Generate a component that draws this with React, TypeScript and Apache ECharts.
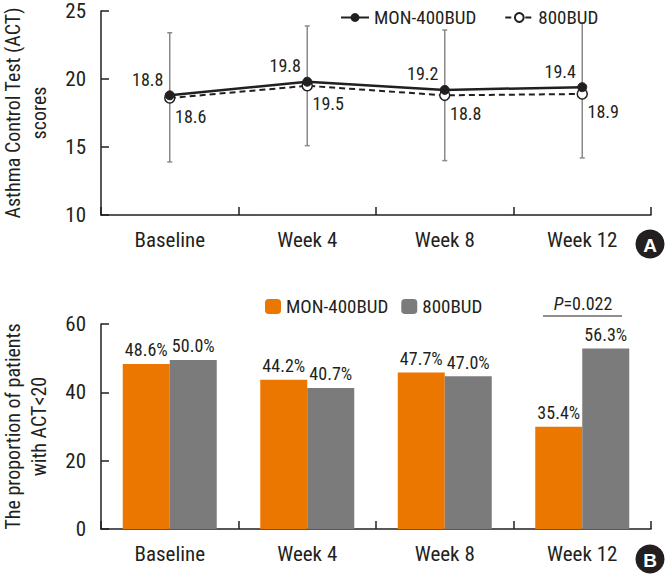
import React, { useEffect, useRef } from "react";
import * as echarts from "echarts";

const categories = ["Baseline", "Week 4", "Week 8", "Week 12"];
const monScores = [18.8, 19.8, 19.2, 19.4];
const budScores = [18.6, 19.5, 18.8, 18.9];
const errLow = [13.9, 15.1, 14.0, 14.2];
const errHigh = [23.4, 23.9, 23.6, 24.1];
const monBar = [48.3, 43.7, 45.8, 29.9];
const budBar = [49.5, 41.3, 44.7, 52.8];
const monBarLabels = ["48.6%", "44.2%", "47.7%", "35.4%"];
const budBarLabels = ["50.0%", "40.7%", "47.0%", "56.3%"];
const seriesNames = ["MON-400BUD", "800BUD"];
const pText = "0.022";

const FONT = "'Roboto Condensed', 'Liberation Sans Narrow', Roboto, sans-serif";
const INK = "#231f20";
const ORANGE = "#ec7700";
const GRAY = "#7b7b7b";

export default function App() {
  const ref = useRef<HTMLDivElement>(null);
  useEffect(() => {
    if (!ref.current) return;
    const chart = echarts.init(ref.current, null, { renderer: "svg" });
    const axisCommon = {
      axisLine: { show: true, lineStyle: { color: INK, width: 1.5 } },
      axisTick: { show: true, inside: true, length: 8, lineStyle: { color: INK, width: 1.5 } },
      splitLine: { show: false },
    };
    const xAxisBase = (gridIndex: number) => ({
      type: "category",
      gridIndex,
      data: categories,
      boundaryGap: true,
      ...axisCommon,
      axisLabel: { fontSize: 21, margin: 14, color: INK, fontFamily: FONT },
    });
    const option: any = {
      animation: false,
      textStyle: { fontFamily: FONT, color: INK },
      grid: [
        { left: 101, right: 16, top: 11, height: 204, outerBoundsMode: "none", containLabel: false },
        { left: 101, right: 16, top: 324, height: 205, outerBoundsMode: "none", containLabel: false },
      ],
      legend: [
        {
          data: seriesNames,
          left: 335,
          top: 3,
          itemWidth: 28,
          itemHeight: 11,
          itemGap: 28,
          textStyle: { fontSize: 19, color: INK, fontFamily: FONT },
        },
        {
          data: ["barMON", "bar800"],
          left: 260,
          top: 292,
          itemWidth: 16,
          itemHeight: 15,
          itemGap: 13,
          formatter: (n: string) => (n === "barMON" ? seriesNames[0] : seriesNames[1]),
          textStyle: { fontSize: 19, color: INK, fontFamily: FONT },
        },
      ],
      xAxis: [xAxisBase(0), xAxisBase(1)],
      yAxis: [
        {
          type: "value",
          gridIndex: 0,
          min: 10,
          max: 25,
          interval: 5,
          ...axisCommon,
          axisLabel: { fontSize: 21, margin: 15, color: INK, fontFamily: FONT },
          name: "Asthma Control Test (ACT)\nscores",
          nameLocation: "middle",
          nameRotate: 90,
          nameGap: 49,
          nameTextStyle: { fontSize: 20, lineHeight: 26, color: INK, fontFamily: FONT },
        },
        {
          type: "value",
          gridIndex: 1,
          min: 0,
          max: 60,
          interval: 20,
          ...axisCommon,
          axisLabel: { fontSize: 21, margin: 15, color: INK, fontFamily: FONT },
          name: "The proportion of patients\nwith ACT<20",
          nameLocation: "middle",
          nameRotate: 90,
          nameGap: 49,
          nameTextStyle: { fontSize: 20, lineHeight: 26, color: INK, fontFamily: FONT },
        },
      ],
      series: [
        {
          type: "custom",
          xAxisIndex: 0,
          yAxisIndex: 0,
          z: 1,
          silent: true,
          encode: { x: 0, y: [1, 2] },
          data: categories.map((_, i) => [i, errLow[i], errHigh[i]]),
          renderItem: (params: any, api: any) => {
            const lo = api.coord([api.value(0), api.value(1)]);
            const hi = api.coord([api.value(0), api.value(2)]);
            const cap = 2.5;
            const st = { stroke: "#8a8a8a", lineWidth: 1.5 };
            return {
              type: "group",
              children: [
                { type: "line", shape: { x1: lo[0], y1: lo[1], x2: hi[0], y2: hi[1] }, style: st },
                { type: "line", shape: { x1: lo[0] - cap, y1: lo[1], x2: lo[0] + cap, y2: lo[1] }, style: st },
                { type: "line", shape: { x1: hi[0] - cap, y1: hi[1], x2: hi[0] + cap, y2: hi[1] }, style: st },
              ],
            };
          },
        },
        {
          name: seriesNames[0],
          type: "line",
          xAxisIndex: 0,
          yAxisIndex: 0,
          z: 3,
          data: monScores,
          symbol: "circle",
          symbolSize: 9,
          itemStyle: { color: INK, borderColor: INK },
          lineStyle: { color: INK, width: 2.5 },
          label: {
            show: true,
            position: "inside",
            offset: [-22, -16],
            fontSize: 18,
            color: INK,
            fontFamily: FONT,
            formatter: (p: any) => p.value.toFixed(1),
          },
        },
        {
          name: seriesNames[1],
          type: "line",
          xAxisIndex: 0,
          yAxisIndex: 0,
          z: 2,
          data: budScores,
          symbol: "circle",
          symbolSize: 10,
          itemStyle: { color: "#ffffff", borderColor: INK, borderWidth: 1.5 },
          lineStyle: { color: INK, width: 2, type: [6, 4] },
          label: {
            show: true,
            position: "inside",
            offset: [21, 18],
            fontSize: 18,
            color: INK,
            fontFamily: FONT,
            formatter: (p: any) => p.value.toFixed(1),
          },
        },
        {
          name: "barMON",
          type: "bar",
          xAxisIndex: 1,
          yAxisIndex: 1,
          data: monBar,
          barWidth: 47,
          barGap: "0%",
          itemStyle: { color: ORANGE },
          label: {
            show: true,
            position: "top",
            distance: 5,
            fontSize: 18,
            color: INK,
            fontFamily: FONT,
            formatter: (p: any) => monBarLabels[p.dataIndex],
          },
        },
        {
          name: "bar800",
          type: "bar",
          xAxisIndex: 1,
          yAxisIndex: 1,
          data: budBar,
          barWidth: 47,
          barGap: "0%",
          itemStyle: { color: GRAY },
          label: {
            show: true,
            position: "top",
            distance: 5,
            fontSize: 18,
            color: INK,
            fontFamily: FONT,
            formatter: (p: any) => budBarLabels[p.dataIndex],
          },
        },
      ],
      graphic: [
        {
          type: "text",
          x: 583,
          y: 303,
          style: {
            text: "{i|P}=" + pText,
            fontSize: 18,
            fill: INK,
            fontFamily: FONT,
            align: "center",
            verticalAlign: "middle",
            rich: { i: { fontStyle: "italic", fontSize: 18, fontFamily: FONT, fill: INK } },
          },
        },
        {
          type: "line",
          shape: { x1: 543, y1: 316, x2: 622, y2: 316 },
          style: { stroke: INK, lineWidth: 1 },
        },
        { type: "circle", shape: { cx: 650, cy: 244, r: 14.5 }, style: { fill: INK } },
        {
          type: "text",
          x: 650,
          y: 245,
          style: { text: "A", fill: "#fff", fontSize: 19, fontWeight: "bold", fontFamily: "'Liberation Sans', Arial, sans-serif", align: "center", verticalAlign: "middle" },
        },
        { type: "circle", shape: { cx: 650, cy: 559, r: 14.5 }, style: { fill: INK } },
        {
          type: "text",
          x: 650,
          y: 560,
          style: { text: "B", fill: "#fff", fontSize: 19, fontWeight: "bold", fontFamily: "'Liberation Sans', Arial, sans-serif", align: "center", verticalAlign: "middle" },
        },
      ],
    };
    chart.setOption(option);
    return () => chart.dispose();
  }, []);
  return (
    <div
      ref={ref}
      style={{ position: "fixed", left: 0, top: 0, width: 667, height: 577, background: "#fff" }}
    />
  );
}
